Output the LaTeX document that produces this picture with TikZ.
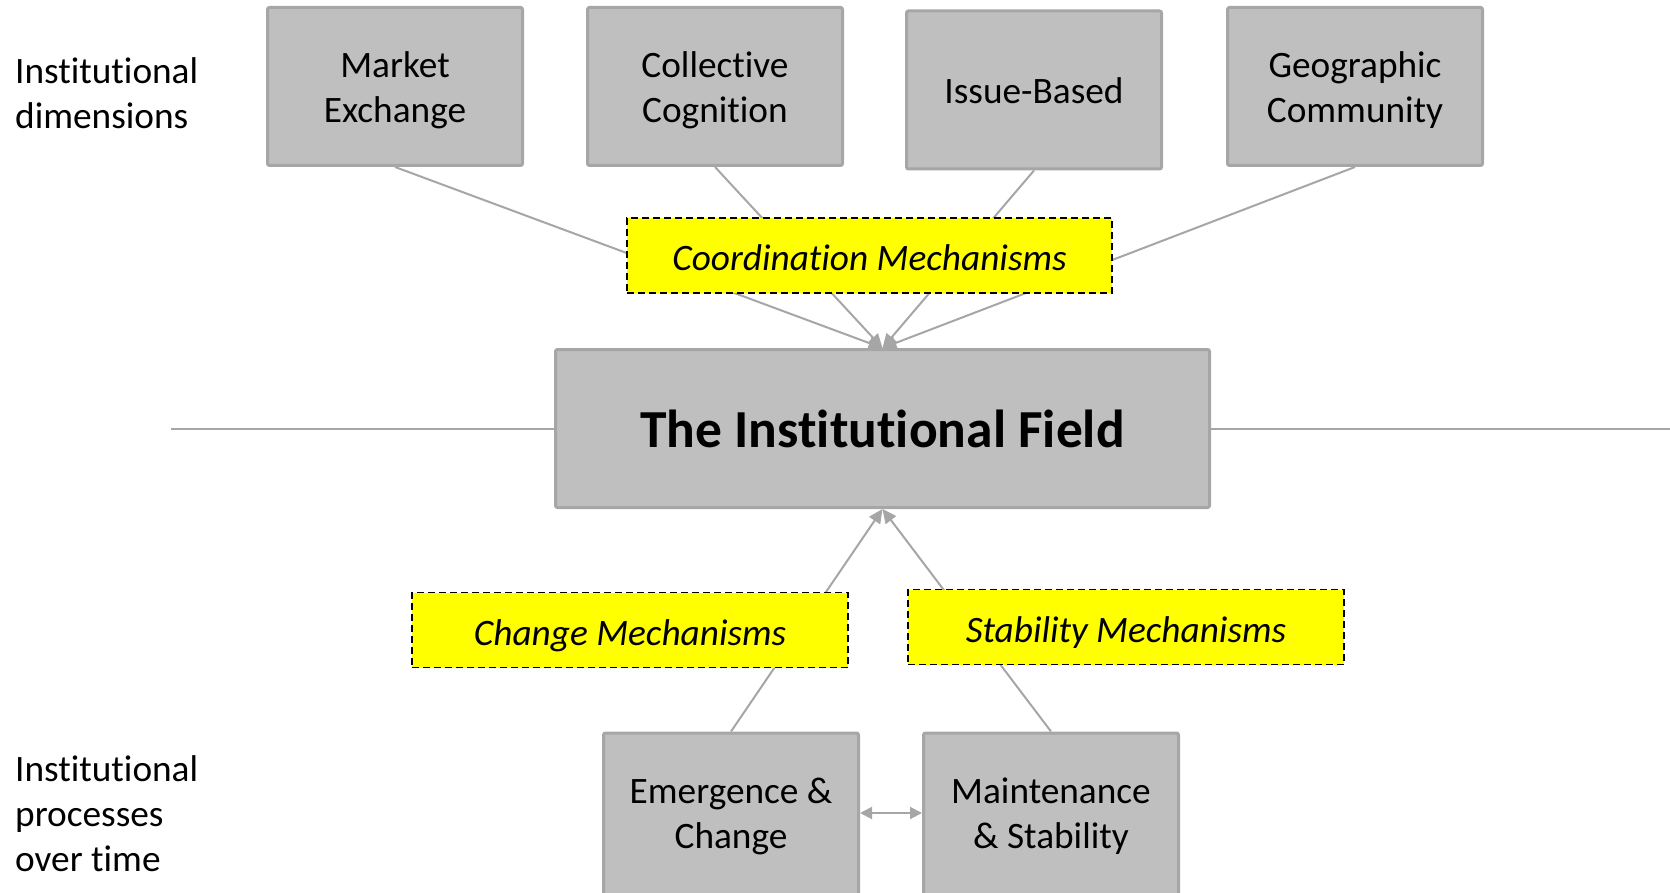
\documentclass[tikz,border=0pt]{standalone}
\usepackage{fontspec}
\setmainfont{Carlito}[Ligatures={NoCommon}]
\usetikzlibrary{arrows.meta}
\definecolor{boxfill}{HTML}{BFBFBF}
\definecolor{boxline}{HTML}{A6A6A6}
\definecolor{mechfill}{HTML}{FFFF00}
\pgfdeclarelayer{bg}
\pgfsetlayers{bg,main}
\newcommand\boxtext[2]{\raisebox{#1}[\height][\depth]{\begin{tabular}{@{}c@{}}#2\end{tabular}}}
\tikzset{
  graybox/.style={draw=boxline, fill=boxfill, line width=3pt, rounded corners=2pt,
    minimum width=255pt, minimum height=158pt, align=center, inner sep=0pt,
    font=\fontsize{37.3}{45}\selectfont},
  mechbox/.style={draw=black, fill=mechfill, line width=1.8pt, dash pattern=on 7pt off 4pt,
    minimum width=485pt, minimum height=75pt, inner sep=0pt,
    font=\fontsize{37.3}{45}\selectfont\itshape},
  sidelabel/.style={anchor=west, align=left, inner sep=0pt, font=\fontsize{37.3}{45}\selectfont},
  conn/.style={draw=boxline, line width=2pt},
  tip/.style={-{Triangle[length=14pt,width=13pt]}},
}
\begin{document}
\begin{tikzpicture}[x=1pt,y=-1pt]
\useasboundingbox (0,0) rectangle (1670,893);
% side labels
\node[sidelabel] (dimlabel) at (15,93.5) {Institutional\\dimensions};
\node[sidelabel] (proclabel) at (15,814) {Institutional\\processes\\over time};
% top boxes
\node[graybox] (market) at (395,86.5) {\boxtext{-4.5pt}{Market\\Exchange}};
\node[graybox] (cogn) at (715,86.5) {\boxtext{-4.5pt}{Collective\\Cognition}};
\node[graybox] (issue) at (1034,90) {\boxtext{-4.5pt}{Issue-Based}};
\node[graybox] (geo) at (1355,86.5) {\boxtext{-4.5pt}{Geographic\\Community}};
% mechanisms
\node[mechbox] (coord) at (869.5,255.5) {\boxtext{-6pt}{Coordination Mechanisms}};
\node[mechbox, minimum width=436pt] (change) at (630,630) {\boxtext{-6pt}{Change Mechanisms}};
\node[mechbox, minimum width=436pt] (stab) at (1126,627) {\boxtext{-6pt}{Stability Mechanisms}};
% field
\node[graybox, minimum width=654pt, minimum height=158pt,
  font=\fontsize{53.5}{60}\selectfont\bfseries] (field) at (882.5,428.5) {The Institutional Field};
% bottom boxes
\node[graybox, minimum height=166pt] (emerg) at (731,816) {Emergence \&\\Change};
\node[graybox, minimum height=166pt] (maint) at (1051,816) {Maintenance\\\& Stability};
\coordinate (hleft) at (171,428.5);
\coordinate (hright) at (1672,428.5);
% connectors behind
\begin{pgfonlayer}{bg}
\draw[conn] (hleft) -- (field.west);
\draw[conn] (field.east) -- (hright);
\draw[conn, tip] (market.south) -- (field.north);
\draw[conn, tip] (cogn.south) -- (field.north);
\draw[conn, tip] (issue.south) -- (field.north);
\draw[conn, tip] (geo.south) -- (field.north);
\draw[conn, tip] (emerg.north) -- (field.south);
\draw[conn, tip] (maint.north) -- (field.south);
\end{pgfonlayer}
\draw[conn, {Triangle[length=12pt,width=12pt]}-{Triangle[length=12pt,width=12pt]}] (emerg.east |- 0,813) -- (maint.west |- 0,813);
\end{tikzpicture}
\end{document}
